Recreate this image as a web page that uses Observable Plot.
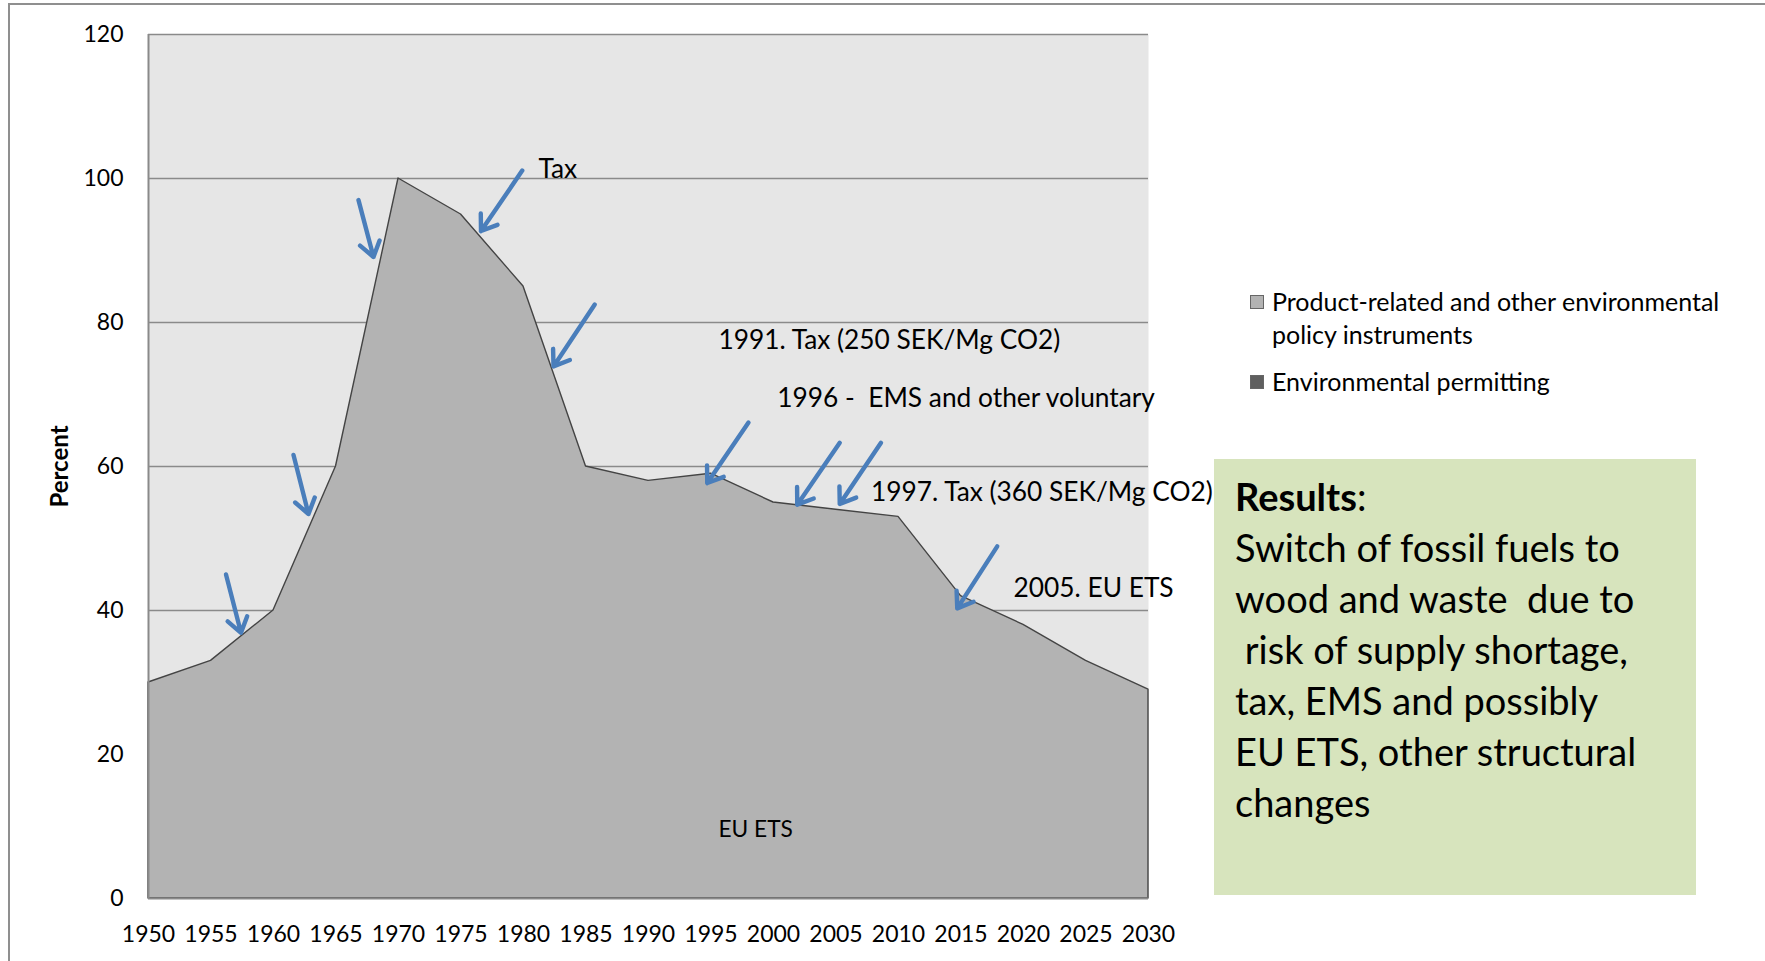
<!DOCTYPE html>
<html>
<head>
<meta charset="utf-8">
<script src="https://cdn.jsdelivr.net/npm/d3@7"></script>
<script src="https://cdn.jsdelivr.net/npm/@observablehq/plot@0.6"></script>
<style>
  html, body { margin: 0; padding: 0; background: #fff; }
  #wrap { position: relative; width: 1765px; height: 961px; overflow: hidden; font-family: Lato, "Open Sans", sans-serif; }
  #chart { position: absolute; left: 0; top: 0; }
  #border { position: absolute; left: 8px; top: 3px; width: 1800px; height: 1000px; border-left: 2px solid #8f8f8f; border-top: 2px solid #8f8f8f; box-sizing: border-box; }
  #legend { position: absolute; left: 1250px; top: 285px; font-size: 25px; color: #000; line-height: 33px; }
  .li { position: relative; padding-left: 22px; }
  .sw { position: absolute; left: 0; top: 10px; width: 12px; height: 12px; border: 1px solid #666; }
  #box { position: absolute; left: 1214px; top: 459px; width: 482px; height: 436px; background: #d7e4bd; box-sizing: border-box; padding: 12px 10px 0 21px; font-size: 38px; line-height: 51px; color: #000; }
</style>
</head>
<body>
<div id="wrap">
  <div id="chart"></div>
  <div id="border"></div>
  <div id="legend"></div>
  <div id="box"></div>
</div>
<script>
// ---- data ----
const years = [1950, 1955, 1960, 1965, 1970, 1975, 1980, 1985, 1990, 1995, 2000, 2005, 2010, 2015, 2020, 2025, 2030];
const percent = [30, 33, 40, 60, 100, 95, 85, 60, 58, 59, 55, 54, 53, 42, 38, 33, 29];
const yTicks = [0, 20, 40, 60, 80, 100, 120];
const xTicks = years;

// arrows (tail -> head), in data units (year, percent)
const arrowX1 = [1956.2, 1961.6, 1966.8, 1979.9, 1985.7, 1998.0, 2005.3, 2008.6, 2017.9];
const arrowY1 = [45.0, 61.6, 97.0, 101.1, 82.5, 66.1, 63.3, 63.3, 48.9];
const arrowX2 = [1957.4, 1962.8, 1968.0, 1976.6, 1982.4, 1994.7, 2001.9, 2005.3, 2014.7];
const arrowY2 = [36.9, 53.4, 89.1, 92.7, 73.9, 57.7, 54.7, 54.8, 40.3];

// annotations
const noteText = ["Tax", "1991. Tax (250 SEK/Mg CO2)", "1996 -  EMS and other voluntary", "1997. Tax (360 SEK/Mg CO2)", "2005. EU ETS"];
const noteX = [1981.2, 1995.6, 2000.3, 2007.8, 2019.2];
const noteY = [101.3, 77.5, 69.4, 56.4, 43.1];
const innerText = ["EU ETS"];
const innerX = [1995.6];
const innerY = [9.5];

const legendLabels = ["Product-related and other environmental policy instruments", "Environmental permitting"];
const legendColors = ["#b3b3b3", "#5f5f5f"];

const resultsTitle = "Results";
const resultsLines = ["Switch of fossil fuels to", "wood and waste  due to", " risk of supply shortage,", "tax, EMS and possibly", "EU ETS, other structural", "changes"];
const yLabel = "Percent";

// ---- build ----
const data = years.map((y, i) => ({year: y, value: percent[i]}));
const arrows = arrowX1.map((d, i) => ({x1: d, y1: arrowY1[i], x2: arrowX2[i], y2: arrowY2[i]}));
const notes = noteText.map((t, i) => ({text: t, x: noteX[i], y: noteY[i]}));
const inner = innerText.map((t, i) => ({text: t, x: innerX[i], y: innerY[i]}));

const chart = Plot.plot({
  width: 1765,
  height: 961,
  marginLeft: 148,
  marginRight: 617,
  marginTop: 34,
  marginBottom: 63,
  style: {fontFamily: "Lato, 'Open Sans', sans-serif", fontSize: "23px", color: "#000", background: "transparent", overflow: "visible"},
  x: {domain: [1950, 2030], ticks: xTicks, tickFormat: d => String(d), tickSize: 0, tickPadding: 27, label: null},
  y: {domain: [0, 120], ticks: yTicks, tickSize: 0, tickPadding: 25, label: null},
  marks: [
    Plot.frame({fill: "#e6e6e6", stroke: "none"}),
    Plot.ruleY(yTicks.filter(d => d > 0), {stroke: "#8a8a8a", strokeWidth: 1.6}),
    Plot.areaY(data, {x: "year", y: "value", fill: "#b3b3b3", stroke: "#444", strokeWidth: 1.4}),
    Plot.ruleX([1950], {stroke: "#8a8a8a", strokeWidth: 2}),
    Plot.ruleY([0], {stroke: "#8a8a8a", strokeWidth: 2.2}),
    Plot.arrow(arrows, {x1: "x1", y1: "y1", x2: "x2", y2: "y2", stroke: "#4a7ebb", strokeWidth: 4.4, headLength: 6, headAngle: 70}),
    Plot.text(notes, {x: "x", y: "y", text: "text", textAnchor: "start", fontSize: 26.3, fill: "#000"}),
    Plot.text(inner, {x: "x", y: "y", text: "text", textAnchor: "start", fontSize: 22.7, fill: "#000"}),
    Plot.text([yLabel], {frameAnchor: "left", text: d => d, rotate: -90, textAnchor: "middle", dx: -88, fontSize: 24, fontWeight: "bold", fill: "#000"})
  ]
});
document.getElementById("chart").appendChild(chart);

// legend
const legend = document.getElementById("legend");
legendLabels.forEach((lab, i) => {
  const div = document.createElement("div");
  div.className = "li";
  div.style.width = "470px";
  div.style.marginBottom = "14px";
  const sw = document.createElement("span");
  sw.className = "sw";
  sw.style.background = legendColors[i];
  div.appendChild(sw);
  div.appendChild(document.createTextNode(lab));
  legend.appendChild(div);
});

// results box
const box = document.getElementById("box");
const t = document.createElement("div");
t.innerHTML = "<b>" + resultsTitle + "</b>:";
box.appendChild(t);
resultsLines.forEach(l => {
  const d = document.createElement("div");
  d.style.whiteSpace = "pre";
  d.textContent = l;
  box.appendChild(d);
});
</script>
</body>
</html>
